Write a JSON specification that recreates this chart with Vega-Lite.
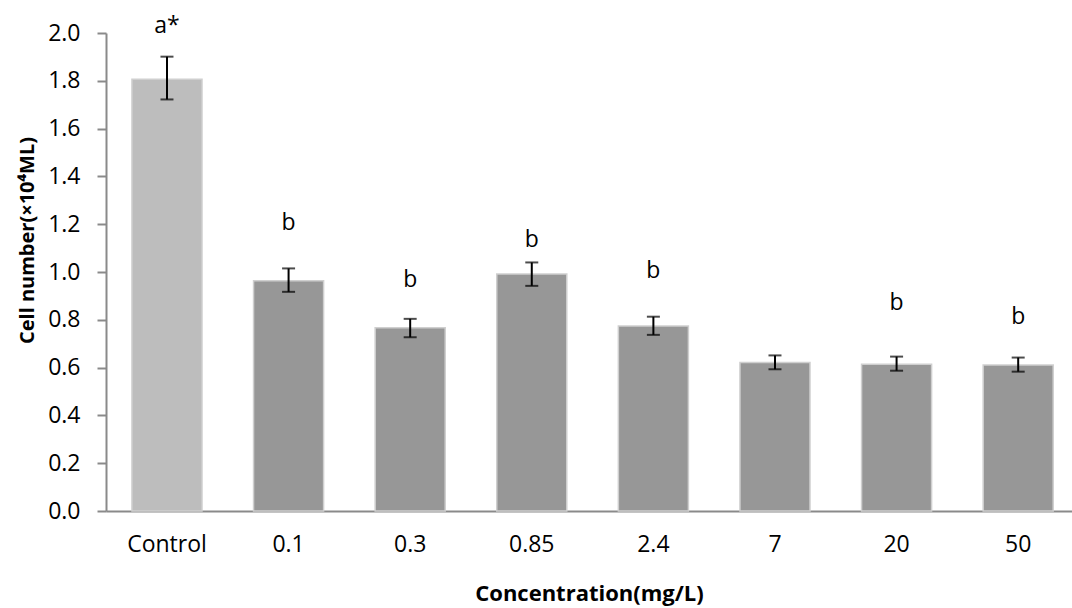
{
  "$schema": "https://vega.github.io/schema/vega-lite/v6.json",
  "autosize": {"type": "none"},
  "padding": {"left": 106, "top": 33, "right": 0, "bottom": 97},
  "width": 966,
  "height": 478,
  "background": "white",
  "config": {
    "view": {"stroke": null},
    "font": "Open Sans",
    "axis": {"labelFont": "Open Sans", "titleFont": "Open Sans", "labelColor": "#000", "titleColor": "#000"}
  },
  "data": {
    "values": [
      {"conc": "Control", "mean": 1.806, "lo": 1.722, "hi": 1.901, "letter": "a*", "ly": 2.03, "grp": "control"},
      {"conc": "0.1", "mean": 0.963, "lo": 0.917, "hi": 1.015, "letter": "b", "ly": 1.205, "grp": "treat"},
      {"conc": "0.3", "mean": 0.767, "lo": 0.727, "hi": 0.804, "letter": "b", "ly": 0.966, "grp": "treat"},
      {"conc": "0.85", "mean": 0.992, "lo": 0.942, "hi": 1.04, "letter": "b", "ly": 1.132, "grp": "treat"},
      {"conc": "2.4", "mean": 0.774, "lo": 0.737, "hi": 0.813, "letter": "b", "ly": 1.006, "grp": "treat"},
      {"conc": "7", "mean": 0.621, "lo": 0.593, "hi": 0.651, "letter": "", "ly": null, "grp": "treat"},
      {"conc": "20", "mean": 0.614, "lo": 0.587, "hi": 0.646, "letter": "b", "ly": 0.87, "grp": "treat"},
      {"conc": "50", "mean": 0.611, "lo": 0.583, "hi": 0.642, "letter": "b", "ly": 0.813, "grp": "treat"}
    ]
  },
  "encoding": {
    "x": {
      "field": "conc", "type": "nominal", "sort": null,
      "scale": {"paddingInner": 0.424, "paddingOuter": 0.184, "align": 0.58},
      "axis": {
        "title": "Concentration(mg/L)", "labelAngle": 0, "labelFontSize": 23, "labelPadding": 22,
        "ticks": false, "domainColor": "#8a8a8a", "domainWidth": 2,
        "titleFontSize": 22, "titleFontWeight": "bold", "titleBaseline": "alphabetic",
        "titleY": 89
      }
    }
  },
  "layer": [
    {
      "mark": {"type": "bar", "stroke": "#cfcfcf", "strokeWidth": 1.5},
      "encoding": {
        "y": {
          "field": "mean", "type": "quantitative",
          "scale": {"domain": [0, 2]},
          "axis": {
            "title": "Cell number(×10⁴ML)", "values": [0, 0.2, 0.4, 0.6, 0.8, 1.0, 1.2, 1.4, 1.6, 1.8, 2.0],
            "format": ".1f", "grid": false, "labelFontSize": 23, "labelPadding": 17, "tickSize": 9,
            "tickColor": "#8a8a8a", "tickWidth": 2, "domainColor": "#8a8a8a", "domainWidth": 2,
            "titleFontSize": 20, "titleFontWeight": "bold", "titleBaseline": "alphabetic",
            "titleX": -73, "titleY": 207
          }
        },
        "fill": {
          "field": "grp", "type": "nominal",
          "scale": {"domain": ["control", "treat"], "range": ["#bdbdbd", "#979797"]},
          "legend": null
        }
      }
    },
    {
      "mark": {"type": "rule", "color": "#000", "strokeWidth": 2},
      "encoding": {
        "y": {"field": "lo", "type": "quantitative"},
        "y2": {"field": "hi"}
      }
    },
    {
      "mark": {"type": "tick", "color": "#000", "thickness": 2, "size": 13},
      "encoding": {"y": {"field": "lo", "type": "quantitative"}}
    },
    {
      "mark": {"type": "tick", "color": "#000", "thickness": 2, "size": 13},
      "encoding": {"y": {"field": "hi", "type": "quantitative"}}
    },
    {
      "transform": [{"filter": "datum.letter != ''"}],
      "mark": {"type": "text", "fontSize": 23, "baseline": "middle", "align": "center", "color": "#000", "font": "Open Sans"},
      "encoding": {
        "y": {"field": "ly", "type": "quantitative"},
        "text": {"field": "letter"}
      }
    }
  ]
}
